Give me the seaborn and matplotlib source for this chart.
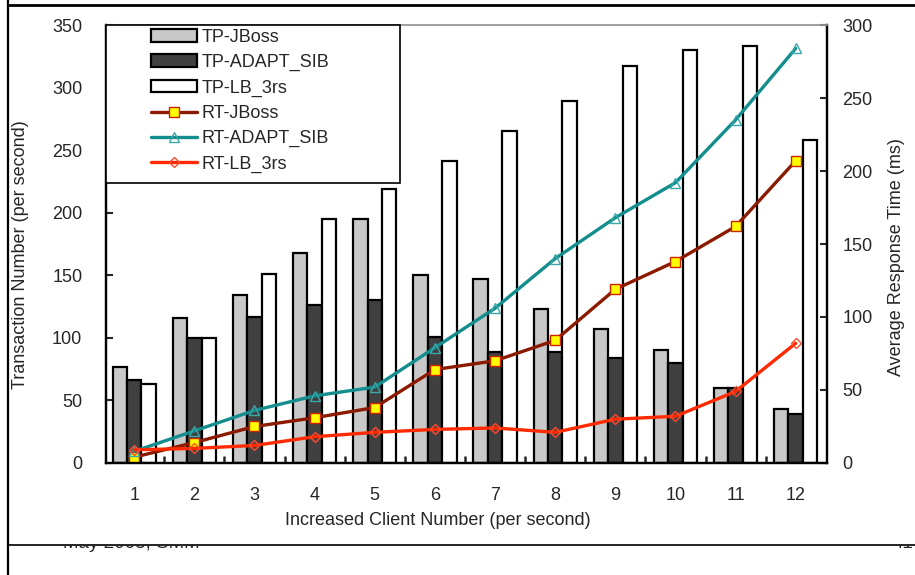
import numpy as np
import pandas as pd
import matplotlib
matplotlib.use("Agg")
import matplotlib.pyplot as plt
import seaborn as sns
from matplotlib.patches import Rectangle
from matplotlib.lines import Line2D
from matplotlib.ticker import FixedLocator

# data
clients = ["1", "2", "3", "4", "5", "6", "7", "8", "9", "10", "11", "12"]
tp_jboss = [77, 116, 134, 168, 195, 150, 147, 123, 107, 90, 60, 43]
tp_adapt = [66, 100, 117, 126, 130, 101, 89, 89, 84, 80, 60, 39]
tp_lb = [63, 100, 151, 195, 219, 241, 265, 289, 317, 330, 333, 258]
rt_jboss = [4, 14, 25, 31, 38, 64, 70, 84, 119, 138, 162, 207]
rt_adapt = [8, 22, 36, 46, 52, 79, 106, 140, 168, 192, 235, 284]
rt_lb = [9, 10, 12, 18, 21, 23, 24, 21, 30, 32, 49, 82]

tp_names = ["TP-JBoss", "TP-ADAPT_SIB", "TP-LB_3rs"]
tp_colors = ["#c8c8c8", "#404040", "#ffffff"]

FS = 13

sns.set_style("ticks")
plt.rcParams["font.family"] = ["Liberation Sans", "DejaVu Sans"]
plt.rcParams["font.size"] = FS

df = pd.DataFrame({
    "Client": clients * 3,
    "Series": np.repeat(tp_names, len(clients)),
    "Value": tp_jboss + tp_adapt + tp_lb,
})

fig = plt.figure(figsize=(9.15, 5.75), dpi=100)
ax = fig.add_axes([0.1158, 0.1948, 0.7880, 0.7617])

sns.barplot(data=df, x="Client", y="Value", hue="Series", order=clients,
            hue_order=tp_names, palette=tp_colors, saturation=1,
            edgecolor="black", linewidth=1.6, width=0.72, gap=0, ax=ax)
bar_handles, bar_labels = ax.get_legend_handles_labels()
ax.get_legend().remove()

ax2 = ax.twinx()
pos = np.arange(len(clients))
sns.lineplot(x=pos, y=rt_jboss, ax=ax2, color="#8b1a00", linewidth=2.4,
             marker="s", markersize=6.5, markerfacecolor="#ffff00",
             markeredgecolor="#cc2200", markeredgewidth=1, label="RT-JBoss")
sns.lineplot(x=pos, y=rt_adapt, ax=ax2, color="#138d8d", linewidth=2.4,
             marker="^", markersize=7.5, markerfacecolor="none",
             markeredgecolor="#3aa8a8", markeredgewidth=1, label="RT-ADAPT_SIB")
sns.lineplot(x=pos, y=rt_lb, ax=ax2, color="#ff2a00", linewidth=2.4,
             marker="D", markersize=5.5, markerfacecolor="none",
             markeredgecolor="#ff4a30", markeredgewidth=1, label="RT-LB_3rs")
line_handles, line_labels = ax2.get_legend_handles_labels()
ax2.get_legend().remove()

ax.set_xlim(-0.47, 11.52)
ax.set_ylim(0, 350)
ax2.set_ylim(0, 300)
ax.set_yticks(range(0, 351, 50))
ax2.set_yticks(range(0, 301, 50))

# axes styling
for a in (ax, ax2):
    for s in a.spines.values():
        s.set_linewidth(1.6)
        s.set_color("black")
    a.spines["top"].set_color("#a0a0a0")
    a.spines["top"].set_linewidth(1.2)
ax.tick_params(axis="y", direction="in", length=5, width=1.5, pad=17, labelsize=FS)
ax2.tick_params(axis="y", direction="in", length=5, width=1.5, pad=11, labelsize=FS)
ax.tick_params(axis="x", which="major", length=0, pad=17, labelsize=FS)
ax.xaxis.set_minor_locator(FixedLocator(np.arange(0.5, 11, 1)))
ax.tick_params(axis="x", which="minor", direction="in", length=5, width=1.8)

ax.set_xlabel("Increased Client Number (per second)", fontsize=FS, va="center")
ax.xaxis.set_label_coords(0.46, -0.132)
ax.set_ylabel("Transaction Number (per second)", fontsize=FS, va="center")
ax.yaxis.set_label_coords(-0.119, 0.475)
ax2.set_ylabel("Average Response Time (ms)", fontsize=FS, va="center")
ax2.yaxis.set_label_coords(1.097, 0.47)

# legend box
ax2.add_patch(Rectangle((0, 0.639), 0.408, 0.361, transform=ax2.transAxes,
                        facecolor="white", edgecolor="black", linewidth=1.2,
                        zorder=4, clip_on=False))
leg = ax2.legend(bar_handles + line_handles, bar_labels + line_labels,
                 loc="upper left", bbox_to_anchor=(0.058, 1.0),
                 borderaxespad=0, borderpad=0.2, frameon=False, fontsize=FS,
                 handlelength=2.5, handletextpad=0.3, labelspacing=0.46)
leg.set_zorder(5)

# slide frame around the figure
fig.add_artist(Line2D([7.5 / 915, 1], [1 - 5 / 575, 1 - 5 / 575], color="black", lw=2))
fig.add_artist(Line2D([7.5 / 915, 7.5 / 915], [0, 1], color="black", lw=1.6))
fig.add_artist(Line2D([7.5 / 915, 1], [1 - 545 / 575, 1 - 545 / 575], color="black", lw=1.2))

# footer of the slide underneath, mostly hidden
clip = Rectangle((0, 1 - 553 / 575), 1, 8 / 575, transform=fig.transFigure)
t1 = fig.text(63 / 915, 1 - 548.5 / 575, "May 2005, SMM", fontsize=13.5, va="baseline")
t1.set_clip_path(clip)
t2 = fig.text(893 / 915, 1 - 548.5 / 575, "41", fontsize=13.5, va="baseline")
t2.set_clip_path(clip)

fig.savefig("out.png", dpi=100)
